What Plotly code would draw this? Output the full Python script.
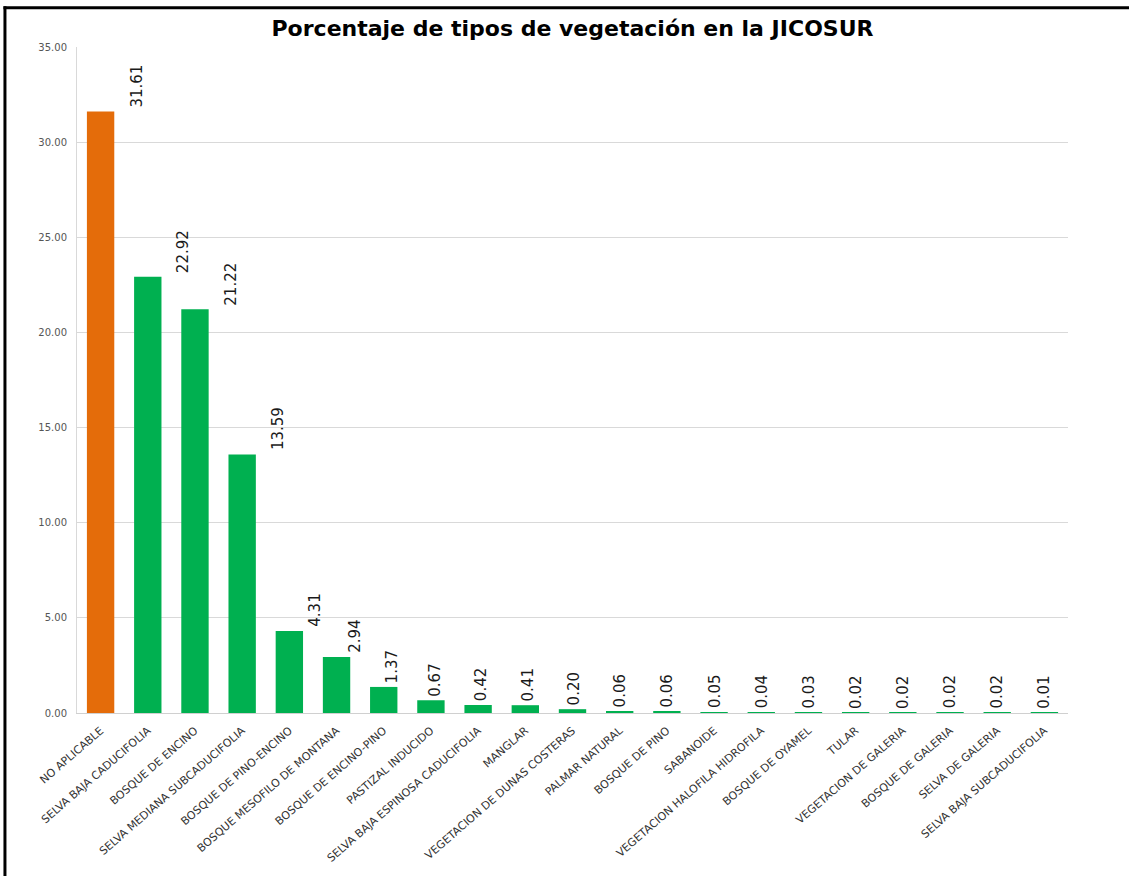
import plotly.graph_objects as go

# Vegetation types and their share of the JICOSUR area (%)
categories = [
    "NO APLICABLE", "SELVA BAJA CADUCIFOLIA", "BOSQUE DE ENCINO",
    "SELVA MEDIANA SUBCADUCIFOLIA", "BOSQUE DE PINO-ENCINO",
    "BOSQUE MESOFILO DE MONTANA", "BOSQUE DE ENCINO-PINO",
    "PASTIZAL INDUCIDO", "SELVA BAJA ESPINOSA CADUCIFOLIA", "MANGLAR",
    "VEGETACION DE DUNAS COSTERAS", "PALMAR NATURAL", "BOSQUE DE PINO",
    "SABANOIDE", "VEGETACION HALOFILA HIDROFILA", "BOSQUE DE OYAMEL",
    "TULAR", "VEGETACION DE GALERIA", "BOSQUE DE GALERIA",
    "SELVA DE GALERIA", "SELVA BAJA SUBCADUCIFOLIA",
]
percentages = [
    31.61, 22.92, 21.22, 13.59, 4.31, 2.94, 1.37, 0.67, 0.42, 0.41,
    0.20, 0.06, 0.06, 0.05, 0.04, 0.03, 0.02, 0.02, 0.02, 0.02, 0.01,
]
y_ticks = [0, 5, 10, 15, 20, 25, 30, 35]

ORANGE = "#E46C0A"
GREEN = "#00B050"
colors = [ORANGE if c == "NO APLICABLE" else GREEN for c in categories]

fig = go.Figure(
    go.Bar(
        x=categories,
        y=percentages,
        marker=dict(color=colors, line=dict(width=0)),
        hoverinfo="x+y",
    )
)

# Rotated value labels beside each bar
annotations = []
for cat, val in zip(categories, percentages):
    annotations.append(
        dict(
            x=cat, y=val, xref="x", yref="y",
            text=f"{val:.2f}",
            textangle=-90,
            showarrow=False,
            xanchor="center", yanchor="bottom",
            xshift=min(36, 6 * val), yshift=2,
            font=dict(family="DejaVu Sans", size=15, color="#1a1a1a"),
        )
    )

fig.update_layout(
    width=1129,
    height=876,
    margin=dict(l=77, r=61, t=47, b=163),
    paper_bgcolor="white",
    plot_bgcolor="white",
    bargap=0.42,
    showlegend=False,
    title=dict(
        text="<b>Porcentaje de tipos de vegetación en la JICOSUR</b>",
        x=0.5, xref="paper", xanchor="center",
        y=0.968, yref="container", yanchor="middle",
        font=dict(family="DejaVu Sans", size=22, color="#000000"),
    ),
    annotations=annotations,
    shapes=[
        # frame lines around the chart
        dict(type="line", xref="paper", yref="paper",
             x0=-0.0727, x1=-0.0727, y0=-0.4, y1=1.061,
             line=dict(color="black", width=3)),
        dict(type="line", xref="paper", yref="paper",
             x0=-0.0742, x1=1.1, y0=1.059, y1=1.059,
             line=dict(color="black", width=3)),
    ],
)

fig.update_xaxes(
    type="category",
    tickangle=-41,
    tickfont=dict(family="DejaVu Sans", size=11, color="#333333"),
    showgrid=False,
    showline=True, linecolor="#d0d0d0", linewidth=1,
    ticks="outside", ticklen=6, tickcolor="rgba(0,0,0,0)",
)
fig.update_yaxes(
    range=[0, 35],
    tickvals=y_ticks,
    tickformat=".2f",
    tickfont=dict(family="DejaVu Sans", size=10, color="#555555"),
    showgrid=True, gridcolor="#d9d9d9", gridwidth=1,
    zeroline=False,
    showline=True, linecolor="#d9d9d9", linewidth=1,
    ticks="outside", ticklen=7, tickcolor="rgba(0,0,0,0)",
)

fig.write_html("out.html")
